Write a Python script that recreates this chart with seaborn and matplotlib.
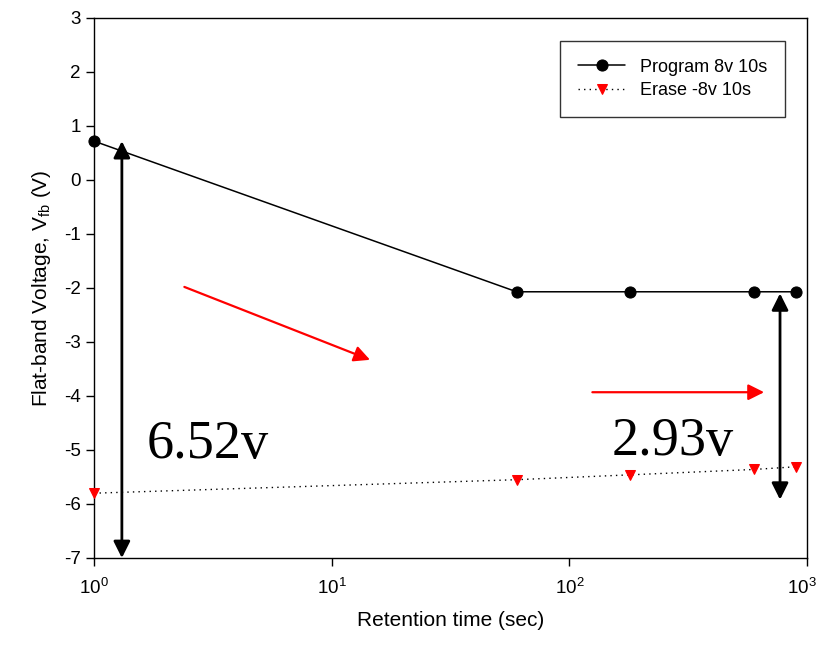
import matplotlib
matplotlib.use("Agg")
import matplotlib.pyplot as plt
import matplotlib.transforms as mtransforms
import seaborn as sns
import pandas as pd
from matplotlib.ticker import FixedLocator, NullLocator

sns.set_theme(style="ticks")
plt.rcParams["font.family"] = ["Liberation Sans", "DejaVu Sans"]
plt.rcParams["axes.unicode_minus"] = False
plt.rcParams["mathtext.fontset"] = "custom"
plt.rcParams["mathtext.rm"] = "Liberation Sans"
plt.rcParams["mathtext.it"] = "Liberation Sans"
plt.rcParams["text.color"] = "black"
plt.rcParams["axes.labelcolor"] = "black"

# Retention measurement data
time_sec = [1, 60, 180, 600, 900]
program_vfb = [0.72, -2.07, -2.07, -2.07, -2.07]
erase_vfb = [-5.80, -5.55, -5.46, -5.36, -5.31]
x_ticks = [1, 10, 100, 1000]
x_tick_labels = ["$10^0$", "$10^1$", "$10^2$", "$10^3$"]
y_ticks = [-7, -6, -5, -4, -3, -2, -1, 0, 1, 2, 3]

df = pd.DataFrame({
    "time": time_sec * 2,
    "vfb": program_vfb + erase_vfb,
    "series": ["Program 8v 10s"] * len(time_sec) + ["Erase -8v 10s"] * len(time_sec),
})

fig = plt.figure(figsize=(8.2, 6.47), dpi=100)
ax = fig.add_axes([94 / 820, 1 - 558 / 647, (807 - 94) / 820, (558 - 18) / 647])

prog = df[df.series == "Program 8v 10s"]
eras = df[df.series == "Erase -8v 10s"]
sns.lineplot(data=prog, x="time", y="vfb", ax=ax, color="black", lw=1.1,
             marker="o", markersize=8, markeredgecolor="black",
             label="Program 8v 10s", clip_on=False, zorder=4)
sns.lineplot(data=eras, x="time", y="vfb", ax=ax, color="black", lw=1.0,
             linestyle=(0, (1, 3)), marker="v", markersize=7,
             markerfacecolor="red", markeredgecolor="red",
             label="Erase -8v 10s", clip_on=False, zorder=4)

ax.set_xscale("log")
ax.set_xlim(1, 1000)
ax.set_ylim(-7, 3)
ax.xaxis.set_major_locator(FixedLocator(x_ticks))
ax.xaxis.set_minor_locator(NullLocator())
ax.set_xticks(x_ticks)
ax.set_xticklabels(x_tick_labels)
ax.set_yticks(y_ticks)
ax.set_yticklabels([str(v) for v in y_ticks])
ax.tick_params(axis="both", direction="out", length=6, width=1, labelsize=13.5,
               color="black", labelcolor="black")
ax.tick_params(axis="x", pad=8)
for s in ax.spines.values():
    s.set_color("black")
    s.set_linewidth(1.0)

# keep the rightmost decade label inside the canvas
last = ax.get_xticklabels()[-1]
last.set_transform(last.get_transform()
                   + mtransforms.ScaledTranslation(-5 / 100, 0, fig.dpi_scale_trans))

ax.set_xlabel("Retention time (sec)", fontsize=15, labelpad=10)
ax.set_ylabel("Flat-band Voltage, V$_{\\mathregular{fb}}$ (V)", fontsize=15, labelpad=8)

leg = ax.legend(loc="upper right", bbox_to_anchor=(0.982, 0.975), fontsize=13,
                frameon=True, fancybox=False, edgecolor="black",
                handlelength=2.6, borderpad=1.0, labelspacing=0.35)
leg.get_frame().set_linewidth(1.0)
for t in leg.get_texts():
    t.set_color("black")

# Window arrows (black, double-headed)
dbl = dict(arrowstyle="<|-|>", color="black", lw=2, mutation_scale=25,
           shrinkA=0, shrinkB=0)
ax.annotate("", xy=(1.31, 0.72), xytext=(1.31, -7.0), arrowprops=dbl)
ax.annotate("", xy=(770, -2.1), xytext=(770, -5.92), arrowprops=dbl)

# Trend arrows (red)
red = dict(arrowstyle="-|>", color="red", lw=1.6, mutation_scale=24,
           shrinkA=0, shrinkB=0)
ax.annotate("", xy=(14.5, -3.33), xytext=(2.4, -1.98), arrowprops=red)
ax.annotate("", xy=(660, -3.93), xytext=(125, -3.93), arrowprops=red)

serif = ["Liberation Serif", "DejaVu Serif"]
ax.text(1.67, -4.9, "6.52v", fontsize=39, family=serif, va="center", ha="left")
ax.text(150, -4.85, "2.93v", fontsize=39, family=serif, va="center", ha="left")

fig.savefig("out.png", dpi=100)
